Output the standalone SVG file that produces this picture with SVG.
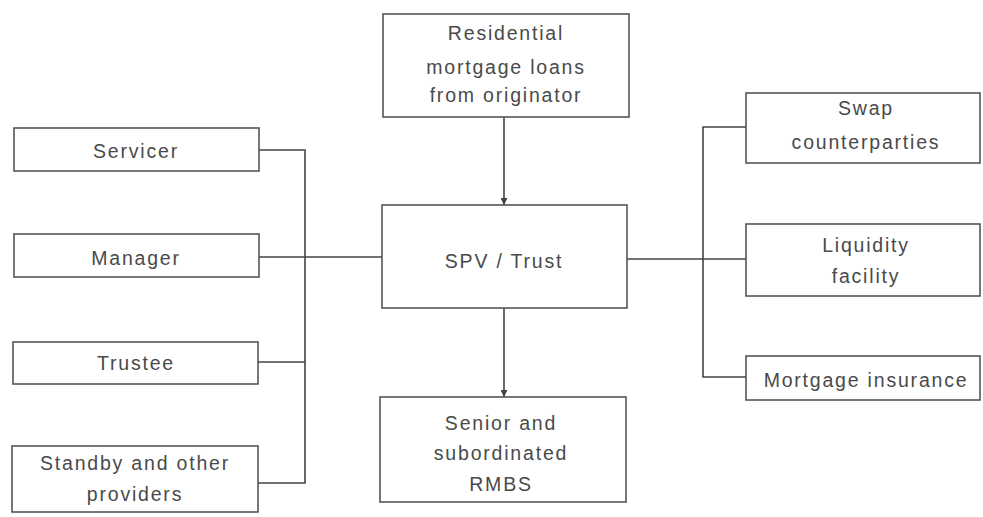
<svg xmlns="http://www.w3.org/2000/svg" width="983" height="517" viewBox="0 0 983 517">
<style>
.box{fill:#fff;stroke:#555;stroke-width:1.6}
.t{font-family:"Liberation Sans",Arial,sans-serif;font-size:19.5px;fill:#4a4a4a;text-anchor:middle;letter-spacing:1.8px}
.c{fill:none;stroke:#444;stroke-width:1.6}
</style>
<defs>
<marker id="ah" viewBox="0 0 10 10" refX="10" refY="5" markerWidth="7" markerHeight="7" orient="auto" markerUnits="userSpaceOnUse">
<path d="M0,0 L10,5 L0,10 z" fill="#444"/>
</marker>
</defs>
<rect width="983" height="517" fill="#fff"/>
<g id="connectors">
<path class="c" d="M259,150 H305 V483 H258"/>
<path class="c" d="M259,257 H382"/>
<path class="c" d="M258,362 H305"/>
<path class="c" d="M627,259 H746"/>
<path class="c" d="M746,127 H703 V377 H746"/>
<path class="c" d="M504,117 V205" marker-end="url(#ah)"/>
<path class="c" d="M504,308 V397" marker-end="url(#ah)"/>
</g>
<g id="servicer"><rect class="box" x="14" y="128" width="245" height="43"/><text class="t" x="136" y="158">Servicer</text></g>
<g id="manager"><rect class="box" x="14" y="234" width="245" height="43"/><text class="t" x="136" y="265">Manager</text></g>
<g id="trustee"><rect class="box" x="13" y="342" width="245" height="42"/><text class="t" x="136" y="370">Trustee</text></g>
<g id="standby"><rect class="box" x="12" y="446" width="246" height="66"/><text class="t" x="135" y="470">Standby and other</text><text class="t" x="135" y="501">providers</text></g>
<g id="originator"><rect class="box" x="383" y="14" width="246" height="103"/><text class="t" x="506" y="40">Residential</text><text class="t" x="506" y="74">mortgage loans</text><text class="t" x="506" y="102">from originator</text></g>
<g id="spv"><rect class="box" x="382" y="205" width="245" height="103"/><text class="t" x="504" y="268">SPV / Trust</text></g>
<g id="rmbs"><rect class="box" x="380" y="397" width="246" height="105"/><text class="t" x="501" y="430">Senior and</text><text class="t" x="501" y="460">subordinated</text><text class="t" x="501" y="491">RMBS</text></g>
<g id="swap"><rect class="box" x="746" y="93" width="234" height="70"/><text class="t" x="866" y="115">Swap</text><text class="t" x="866" y="149">counterparties</text></g>
<g id="liquidity"><rect class="box" x="746" y="224" width="234" height="72"/><text class="t" x="866" y="252">Liquidity</text><text class="t" x="866" y="283">facility</text></g>
<g id="insurance"><rect class="box" x="746" y="356" width="234" height="44"/><text class="t" x="866" y="387">Mortgage insurance</text></g>
</svg>
